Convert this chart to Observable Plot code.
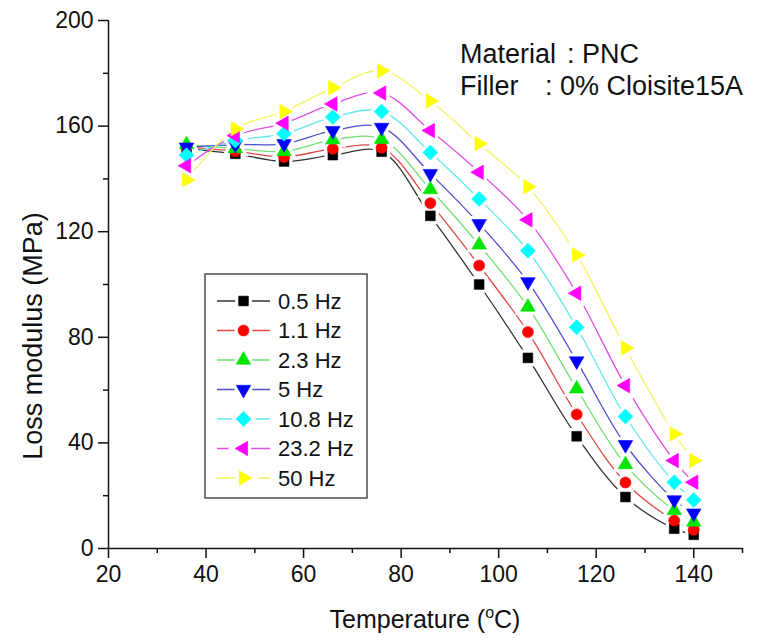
<!DOCTYPE html>
<html><head><meta charset="utf-8">
<script src="https://cdn.jsdelivr.net/npm/d3@7"></script>
<script src="https://cdn.jsdelivr.net/npm/@observablehq/plot@0.6"></script>
<style>
body{margin:0;background:#fff}
#chart{width:759px;height:638px}
</style>
</head><body><div id="chart"></div>
<script>
// ---- data ----
const temperatures = [36, 46, 56, 66, 76, 86, 96, 106, 116, 126, 136, 140];
const frequencies = ["0.5 Hz", "1.1 Hz", "2.3 Hz", "5 Hz", "10.8 Hz", "23.2 Hz", "50 Hz"];
const hz0_5  = [151.5, 149.5, 146.6, 149.0, 150.3, 126.0, 100.0, 72.2, 42.5, 19.5, 7.5, 5.2];
const hz1_1  = [152.0, 150.5, 148.3, 151.4, 151.8, 130.8, 107.2, 82.0, 50.8, 25.0, 10.6, 7.1];
const hz2_3  = [153.0, 151.5, 150.4, 154.8, 155.0, 136.0, 115.0, 91.5, 60.5, 31.8, 14.4, 10.0];
const hz5    = [152.0, 153.0, 153.3, 158.3, 159.5, 142.0, 123.0, 101.0, 71.0, 39.3, 18.4, 13.4];
const hz10_8 = [149.0, 154.5, 157.1, 163.4, 165.5, 150.0, 132.4, 112.8, 83.8, 50.0, 25.1, 18.4];
const hz23_2 = [145.0, 156.4, 161.1, 168.4, 172.5, 158.3, 142.5, 124.5, 96.7, 61.7, 33.3, 25.1];
const hz50   = [139.6, 159.0, 165.5, 174.5, 181.0, 169.5, 153.3, 137.0, 111.2, 75.9, 43.4, 33.3];
const seriesValues = [hz0_5, hz1_1, hz2_3, hz5, hz10_8, hz23_2, hz50];
const markerColors = ["#000000", "#ff0000", "#00e600", "#0000ff", "#00ffff", "#ff00ff", "#ffff00"];
const lineColors   = ["#333333", "#e04848", "#70e070", "#5050cc", "#60e8e8", "#e050e0", "#f4f460"];
const xTicks = [20, 40, 60, 80, 100, 120, 140];
const xMinorTicks = [30, 50, 70, 90, 110, 130, 150];
const yTicks = [0, 40, 80, 120, 160, 200];
const yMinorTicks = [20, 60, 100, 140, 180];
const annotationLabels = ["Material", "Filler"];
const annotationValues = [": PNC", ": 0% Cloisite15A"];

// ---- symbols ----
function triangle(angleDeg) {
  const a = angleDeg * Math.PI / 180, c = Math.cos(a), s = Math.sin(a);
  return {draw(ctx, size) {
    const y = -Math.sqrt(size / (Math.sqrt(3) * 3));
    const pts = [[0, 2 * y], [-Math.sqrt(3) * y, -y], [Math.sqrt(3) * y, -y]];
    pts.forEach(([px, py], i) => {
      const X = px * c - py * s, Y = px * s + py * c;
      i ? ctx.lineTo(X, Y) : ctx.moveTo(X, Y);
    });
    ctx.closePath();
  }};
}
const diamond = {draw(ctx, size) {
  const r = Math.sqrt(size) * 0.78;
  ctx.moveTo(0, -r); ctx.lineTo(r, 0); ctx.lineTo(0, r); ctx.lineTo(-r, 0); ctx.closePath();
}};
const symbols = [d3.symbolSquare, d3.symbolCircle, triangle(0), triangle(180), diamond, triangle(-90), triangle(90)];
const symbolR = [5.5, 5.5, 5.4, 5.4, 5.4, 5.4, 5.4];

const rows = seriesValues.map((vals, k) =>
  temperatures.map((t, i) => ({series: frequencies[k], k, t, v: vals[i]})));

const font = "'Liberation Sans', Arial, Helvetica, sans-serif";

const marks = [];
marks.push(Plot.axisX({ticks: xMinorTicks, tickSize: 5, tickFormat: () => "", strokeWidth: 1.5, label: null}));
marks.push(Plot.axisY({ticks: yMinorTicks, tickSize: 5, tickFormat: () => "", strokeWidth: 1.5, label: null}));
marks.push(Plot.axisX({ticks: xTicks, tickSize: 10, tickPadding: 7, strokeWidth: 1.5, label: null, fontSize: 23, fill: "#111"}));
marks.push(Plot.axisY({ticks: yTicks, tickSize: 10, tickPadding: 5, strokeWidth: 1.5, label: null, fontSize: 23, fill: "#111"}));
marks.push(Plot.ruleY([0], {stroke: "#111", strokeWidth: 1.5}));
marks.push(Plot.ruleX([20], {stroke: "#111", strokeWidth: 1.5}));
rows.forEach((d, k) => marks.push(Plot.line(d, {x: "t", y: "v", curve: "catmull-rom", stroke: lineColors[k], strokeWidth: 1.3})));
rows.forEach((d, k) => marks.push(Plot.dot(d, {x: "t", y: "v", symbol: symbols[k], r: symbolR[k], fill: "#fff", stroke: "#fff", strokeWidth: 7})));
rows.forEach((d, k) => marks.push(Plot.dot(d, {x: "t", y: "v", symbol: symbols[k], r: symbolR[k], fill: markerColors[k], stroke: markerColors[k], strokeWidth: 0.6})));

const plot = Plot.plot({
  width: 759, height: 638,
  marginLeft: 108, marginRight: 17, marginTop: 20, marginBottom: 90,
  style: {fontFamily: font, fontSize: "23px", background: "#fff", color: "#111"},
  x: {domain: [20, 150]},
  y: {domain: [0, 200]},
  marks
});
document.getElementById("chart").appendChild(plot);

// ---- titles, annotation, legend ----
const svg = d3.select(plot);
const xt = svg.append("text").attr("x", 425).attr("y", 628).attr("text-anchor", "middle")
  .attr("font-family", font).attr("font-size", 25).attr("fill", "#111");
xt.append("tspan").text("Temperature (");
xt.append("tspan").attr("dy", -10).attr("font-size", 16).text("o");
xt.append("tspan").attr("dy", 10).text("C)");

svg.append("text").attr("transform", "translate(42,336) rotate(-90)").attr("text-anchor", "middle")
  .attr("font-family", font).attr("font-size", 27).attr("fill", "#111").text("Loss modulus (MPa)");

annotationLabels.forEach((lab, i) => {
  const y = 63 + 32 * i;
  svg.append("text").attr("x", 460).attr("y", y).attr("text-anchor", "start").attr("font-family", font)
    .attr("font-size", 27).attr("fill", "#111").text(lab);
  svg.append("text").attr("x", i === 0 ? 567 : 545).attr("y", y).attr("text-anchor", "start").attr("font-family", font)
    .attr("font-size", 27).attr("fill", "#111").text(annotationValues[i]);
});

const lg = svg.append("g");
lg.append("rect").attr("x", 205).attr("y", 274).attr("width", 162).attr("height", 224)
  .attr("fill", "#fff").attr("stroke", "#333").attr("stroke-width", 1.3);
frequencies.forEach((name, k) => {
  const y = 301 + 29.5 * k;
  const size = Math.PI * symbolR[k] * symbolR[k];
  lg.append("line").attr("x1", 217).attr("x2", 270).attr("y1", y).attr("y2", y)
    .attr("stroke", lineColors[k]).attr("stroke-width", 1.3);
  lg.append("path").attr("transform", `translate(243.5,${y})`).attr("d", d3.symbol(symbols[k], size)())
    .attr("fill", "#fff").attr("stroke", "#fff").attr("stroke-width", 7);
  lg.append("path").attr("transform", `translate(243.5,${y})`).attr("d", d3.symbol(symbols[k], size)())
    .attr("fill", markerColors[k]).attr("stroke", markerColors[k]).attr("stroke-width", 0.6);
  lg.append("text").attr("x", 278).attr("y", y).attr("dy", "0.36em").attr("text-anchor", "start")
    .attr("font-family", font).attr("font-size", 22).attr("fill", "#111").text(name);
});
</script>
</body></html>
